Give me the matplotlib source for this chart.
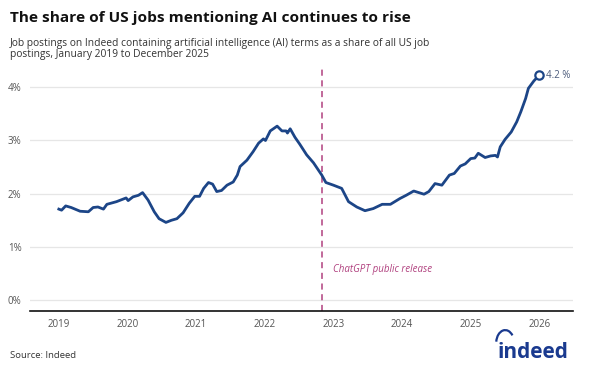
import matplotlib.pyplot as plt
from matplotlib.patches import Arc

plt.rcParams['font.family'] = ['Open Sans', 'DejaVu Sans']

# share of US job postings mentioning AI, % (x in decimal years)
years = [2019.00, 2019.04, 2019.10, 2019.18, 2019.31, 2019.43, 2019.50, 2019.57,
         2019.65, 2019.70, 2019.84, 2019.98, 2020.01, 2020.08, 2020.16, 2020.22,
         2020.30, 2020.39, 2020.46, 2020.56, 2020.64, 2020.72, 2020.81, 2020.90,
         2020.98, 2021.05, 2021.11, 2021.18, 2021.24, 2021.30, 2021.37, 2021.45,
         2021.54, 2021.60, 2021.64, 2021.74, 2021.83, 2021.91, 2021.98, 2022.01,
         2022.08, 2022.18, 2022.25, 2022.31, 2022.33, 2022.37, 2022.44, 2022.51,
         2022.61, 2022.71, 2022.83, 2022.89, 2023.00, 2023.12, 2023.22, 2023.34,
         2023.46, 2023.58, 2023.71, 2023.83, 2023.97, 2024.06, 2024.17, 2024.32,
         2024.39, 2024.48, 2024.58, 2024.69, 2024.76, 2024.85, 2024.92, 2025.00,
         2025.06, 2025.11, 2025.21, 2025.29, 2025.36, 2025.39, 2025.43, 2025.50,
         2025.59, 2025.67, 2025.73, 2025.80, 2025.84, 2025.92, 2026.00]
share = [1.71, 1.69, 1.77, 1.74, 1.67, 1.66, 1.74, 1.75,
         1.71, 1.80, 1.85, 1.92, 1.87, 1.94, 1.97, 2.02,
         1.88, 1.66, 1.53, 1.46, 1.50, 1.53, 1.64, 1.82,
         1.95, 1.95, 2.10, 2.21, 2.18, 2.04, 2.06, 2.16,
         2.22, 2.35, 2.51, 2.63, 2.79, 2.95, 3.03, 3.00,
         3.18, 3.27, 3.18, 3.18, 3.14, 3.22, 3.06, 2.93,
         2.73, 2.58, 2.35, 2.21, 2.16, 2.10, 1.85, 1.75,
         1.68, 1.72, 1.80, 1.80, 1.91, 1.97, 2.05, 1.99,
         2.04, 2.19, 2.16, 2.35, 2.38, 2.52, 2.56, 2.66,
         2.67, 2.76, 2.68, 2.71, 2.72, 2.69, 2.88, 3.02,
         3.16, 3.35, 3.54, 3.79, 3.98, 4.12, 4.23]
year_ticks = [2019, 2020, 2021, 2022, 2023, 2024, 2025, 2026]
pct_ticks = [0, 1, 2, 3, 4]
chatgpt_release = 2022.84

blue = '#1c4587'
magenta = '#b0407e'

fig = plt.figure(figsize=(6, 3.73), dpi=100)
ax = fig.add_axes([0.05, 0.166, 0.905, 0.657])

ax.plot(years, share, color=blue, lw=2.0, solid_joinstyle='round', zorder=3)
ax.plot(years[-1], share[-1], 'o', ms=6, mfc='white', mec=blue, mew=1.6, zorder=4)
ax.text(years[-1] + 0.1, share[-1], f'{share[-1]:.1f} %', color='#4a5a7a',
        fontsize=7, va='center', ha='left')

ax.axvline(chatgpt_release, color=magenta, lw=1.1, ls=(0, (4, 3)), zorder=2)
ax.text(chatgpt_release + 0.15, 0.57, 'ChatGPT public release', color=magenta,
        fontsize=7, style='italic', va='center', ha='left')

ax.set_xlim(2018.58, 2026.49)
ax.set_ylim(-0.207, 4.4)
ax.set_xticks(year_ticks)
ax.set_xticklabels([str(y) for y in year_ticks])
ax.set_yticks(pct_ticks)
ax.set_yticklabels([f'{p}%' for p in pct_ticks])
ax.tick_params(length=0, labelsize=7, colors='#555555', pad=6)
ax.grid(axis='y', color='#e6e6e6', lw=0.9)
ax.set_axisbelow(True)
for s in ['top', 'right', 'left']:
    ax.spines[s].set_visible(False)
ax.spines['bottom'].set_color('#111111')
ax.spines['bottom'].set_linewidth(1.2)

fig.text(0.017, 0.953, 'The share of US jobs mentioning AI continues to rise',
         fontsize=11.1, fontweight='bold', color='#111111', va='center')
fig.text(0.017, 0.868, 'Job postings on Indeed containing artificial intelligence (AI) terms as a share of all US job\npostings, January 2019 to December 2025',
         fontsize=7.4, color='#333333', va='center', linespacing=1.05)
fig.text(0.017, 0.048, 'Source: Indeed', fontsize=6.8, color='#333333', va='center')

# indeed wordmark
fig.text(0.948, 0.055, 'indeed', fontsize=15, fontweight='bold', color='#1a3a8f',
         ha='right', va='center')
fig.patches.append(Arc((0.842, 0.08), 0.03, 0.07, theta1=60, theta2=165,
                       transform=fig.transFigure, color='#1a3a8f', lw=1.6))

fig.savefig('out.png', dpi=100)
